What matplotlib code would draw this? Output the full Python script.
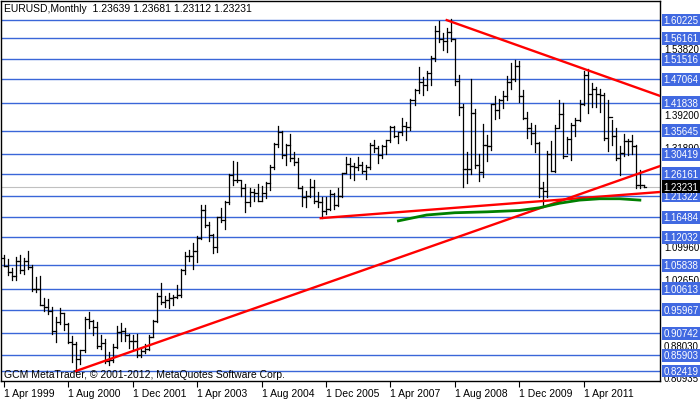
import matplotlib
matplotlib.use("Agg")
import matplotlib.pyplot as plt
from matplotlib.transforms import blended_transform_factory

plt.rcParams["font.family"] = ["Liberation Sans", "DejaVu Sans"]

# monthly EURUSD bars, Apr 1999 .. Jul 2012
closes = [1.057, 1.043, 1.035, 1.068, 1.048, 1.068, 1.055, 1.007, 1.007,
          0.970, 0.965, 0.957, 0.912, 0.933, 0.953, 0.928, 0.888, 0.883, 0.850, 0.870, 0.939,
          0.935, 0.921, 0.880, 0.887, 0.847, 0.848, 0.877, 0.911, 0.913, 0.905, 0.890, 0.890,
          0.860, 0.868, 0.872, 0.900, 0.934, 0.991, 0.977, 0.982, 0.986, 0.988, 0.993, 1.049,
          1.078, 1.078, 1.090, 1.118, 1.182, 1.148, 1.125, 1.098, 1.165, 1.158, 1.198, 1.259,
          1.247, 1.248, 1.230, 1.198, 1.220, 1.218, 1.202, 1.218, 1.242, 1.277, 1.327, 1.355,
          1.303, 1.326, 1.296, 1.287, 1.230, 1.210, 1.213, 1.233, 1.202, 1.199, 1.179, 1.184,
          1.216, 1.193, 1.212, 1.262, 1.282, 1.279, 1.277, 1.281, 1.267, 1.277, 1.325, 1.319,
          1.302, 1.323, 1.336, 1.365, 1.345, 1.354, 1.368, 1.366, 1.426, 1.448, 1.464, 1.459,
          1.485, 1.519, 1.579, 1.560, 1.555, 1.575, 1.561, 1.467, 1.409, 1.273, 1.271, 1.397,
          1.280, 1.266, 1.325, 1.323, 1.415, 1.403, 1.425, 1.434, 1.464, 1.471, 1.500, 1.433,
          1.386, 1.362, 1.351, 1.329, 1.229, 1.223, 1.305, 1.268, 1.363, 1.393, 1.300, 1.338,
          1.369, 1.380, 1.416, 1.481, 1.438, 1.450, 1.439, 1.437, 1.340, 1.387, 1.346, 1.296,
          1.308, 1.333, 1.334, 1.324, 1.237, 1.2364, 1.23231]
highs = [1.082, 1.072, 1.052, 1.076, 1.082, 1.075, 1.091, 1.060, 1.032,
         1.035, 0.987, 0.983, 0.966, 0.944, 0.964, 0.953, 0.930, 0.901, 0.888, 0.870, 0.944,
         0.955, 0.938, 0.933, 0.903, 0.895, 0.867, 0.885, 0.925, 0.930, 0.919, 0.907, 0.905,
         0.907, 0.875, 0.885, 0.905, 0.937, 0.998, 1.019, 0.990, 0.996, 0.993, 1.014, 1.050,
         1.087, 1.093, 1.108, 1.123, 1.193, 1.193, 1.155, 1.127, 1.166, 1.186, 1.200, 1.260,
         1.290, 1.287, 1.246, 1.238, 1.229, 1.227, 1.238, 1.234, 1.244, 1.281, 1.330, 1.367,
         1.357, 1.327, 1.349, 1.310, 1.296, 1.235, 1.223, 1.250, 1.248, 1.221, 1.209, 1.209,
         1.225, 1.219, 1.229, 1.264, 1.299, 1.297, 1.285, 1.298, 1.288, 1.280, 1.330, 1.336,
         1.323, 1.326, 1.337, 1.368, 1.368, 1.355, 1.385, 1.376, 1.427, 1.450, 1.497, 1.477,
         1.489, 1.522, 1.590, 1.601, 1.573, 1.584, 1.604, 1.561, 1.481, 1.416, 1.310, 1.472,
         1.405, 1.306, 1.372, 1.347, 1.417, 1.434, 1.428, 1.444, 1.478, 1.508, 1.514, 1.512,
         1.446, 1.398, 1.373, 1.369, 1.331, 1.243, 1.312, 1.333, 1.370, 1.425, 1.418, 1.343,
         1.375, 1.386, 1.425, 1.490, 1.494, 1.462, 1.454, 1.450, 1.440, 1.424, 1.381, 1.362,
         1.323, 1.349, 1.339, 1.347, 1.326, 1.269, 1.23681]
lows = [1.057, 1.038, 1.025, 1.025, 1.042, 1.040, 1.050, 1.001, 1.000,
        0.970, 0.957, 0.950, 0.906, 0.889, 0.928, 0.916, 0.887, 0.844, 0.823, 0.840, 0.867,
        0.920, 0.905, 0.875, 0.874, 0.843, 0.838, 0.845, 0.876, 0.891, 0.890, 0.875, 0.870,
        0.855, 0.856, 0.864, 0.870, 0.899, 0.932, 0.972, 0.966, 0.964, 0.970, 0.986, 0.989,
        1.040, 1.068, 1.051, 1.066, 1.117, 1.144, 1.113, 1.086, 1.087, 1.154, 1.138, 1.195,
        1.237, 1.243, 1.212, 1.176, 1.190, 1.201, 1.200, 1.200, 1.207, 1.225, 1.273, 1.321,
        1.297, 1.281, 1.290, 1.280, 1.230, 1.191, 1.187, 1.210, 1.197, 1.187, 1.164, 1.172,
        1.180, 1.183, 1.189, 1.209, 1.262, 1.251, 1.248, 1.270, 1.264, 1.250, 1.272, 1.310,
        1.286, 1.297, 1.305, 1.331, 1.342, 1.330, 1.348, 1.337, 1.359, 1.413, 1.441, 1.435,
        1.448, 1.458, 1.511, 1.553, 1.536, 1.531, 1.556, 1.459, 1.392, 1.233, 1.240, 1.261,
        1.274, 1.245, 1.254, 1.290, 1.315, 1.382, 1.386, 1.408, 1.424, 1.450, 1.466, 1.421,
        1.383, 1.340, 1.328, 1.310, 1.211, 1.188, 1.210, 1.267, 1.265, 1.366, 1.297, 1.308,
        1.291, 1.346, 1.378, 1.413, 1.396, 1.410, 1.409, 1.399, 1.337, 1.312, 1.325, 1.292,
        1.258, 1.301, 1.303, 1.306, 1.230, 1.229, 1.23112]
opens = [1.075] + closes[:-2] + [1.23639]

date_ticks = [0, 16, 32, 48, 64, 80, 96, 112, 128, 144]
date_labels = ["1 Apr 1999", "1 Aug 2000", "1 Dec 2001", "1 Apr 2003", "1 Aug 2004",
               "1 Dec 2005", "1 Apr 2007", "1 Aug 2008", "1 Dec 2009", "1 Apr 2011"]

blue_levels = [1.60225, 1.56161, 1.51516, 1.47064, 1.41838, 1.35645, 1.30419, 1.26161, 1.21322,
               1.16484, 1.12032, 1.05838, 1.00613, 0.95967, 0.90742, 0.85903, 0.82419]
black_levels = [1.53820, 1.39200, 1.31890, 1.09960, 1.02650, 0.88030, 0.80935]
last_price = 1.23231

# trend lines (bar index, price)
trend_a = ([17.9, 163], [0.8242, 1.2785])
trend_b = ([78.7, 163], [1.163, 1.221])
trend_c = ([110, 163], [1.602, 1.434])
green_x = [98, 105, 112, 120, 128, 133, 138, 143, 148, 153, 158]
green_y = [1.157, 1.170, 1.175, 1.177, 1.180, 1.186, 1.196, 1.203, 1.206, 1.206, 1.203]

W, H = 700, 402
fs = 7.5
lfs = 7.0
fig = plt.figure(figsize=(7.0, 4.02), dpi=100)
ax = fig.add_axes([1 / W, 20 / H, 659 / W, 380 / H])
ax.set_xlim(-0.75, 163)
ax.set_ylim(0.8020, 1.6444)
blue = "#3a66d8"
for v in blue_levels:
    ax.axhline(v, color=blue, lw=1.0, zorder=1)
ax.axhline(last_price, color="#c0c0c0", lw=0.8, zorder=1)

for i, (o, h, l, c) in enumerate(zip(opens, highs, lows, closes)):
    ax.plot([i, i], [l, h], color="black", lw=0.9, zorder=3)
    ax.plot([i - 0.45, i], [o, o], color="black", lw=0.9, zorder=3)
    ax.plot([i, i + 0.45], [c, c], color="black", lw=0.9, zorder=3)

for xs, ys in (trend_a, trend_b, trend_c):
    ax.plot(xs, ys, color="#ff0000", lw=1.7, zorder=4)
ax.plot(green_x, green_y, color="#008000", lw=2.0, zorder=4)

ax.set_xticks(date_ticks)
ax.set_xticklabels(date_labels, fontsize=fs, ha="left")
ax.tick_params(axis="x", length=4, pad=1)
ax.set_yticks([])
for s in ax.spines.values():
    s.set_linewidth(1.0)

tr = blended_transform_factory(ax.transAxes, ax.transData)
for v in black_levels:
    ax.text(1.006, v, f"{v:.5f}", transform=tr, fontsize=lfs, va="center", ha="left",
            color="black", clip_on=False, zorder=5)
for v in blue_levels:
    ax.text(1.005, v, f"{v:.5f}", transform=tr, fontsize=lfs, va="center", ha="left",
            color="white", clip_on=False, zorder=6,
            bbox=dict(boxstyle="square,pad=0.15", fc="#4169e1", ec="none"))
ax.text(1.005, last_price, f"{last_price:.5f}", transform=tr, fontsize=lfs, va="center",
        ha="left", color="white", clip_on=False, zorder=7,
        bbox=dict(boxstyle="square,pad=0.15", fc="black", ec="none"))

ax.text(0.005, 0.995, "EURUSD,Monthly  1.23639 1.23681 1.23112 1.23231", transform=ax.transAxes,
        fontsize=fs, va="top", ha="left")
ax.text(0.005, 0.005, "GCM MetaTrader, \u00a9 2001-2012, MetaQuotes Software Corp.",
        transform=ax.transAxes, fontsize=fs, va="bottom", ha="left", zorder=8)

fig.savefig("out.png", dpi=100)
